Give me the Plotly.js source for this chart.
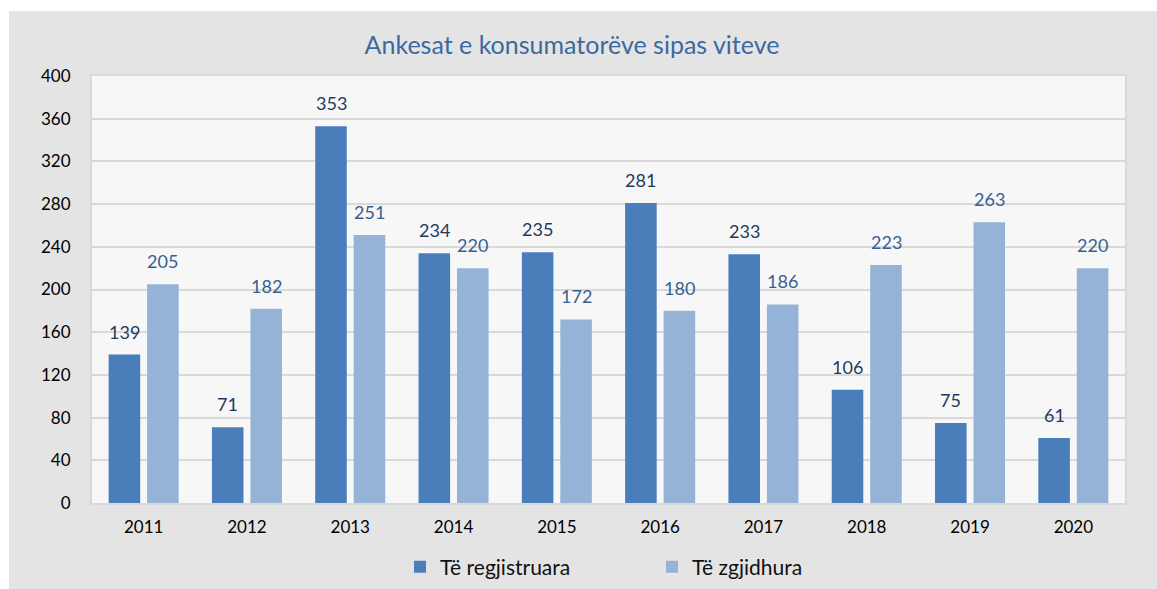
<!DOCTYPE html>
<html>
<head>
<meta charset="utf-8">
<script src="https://cdn.plot.ly/plotly-3.0.1.min.js"></script>
<style>
  html, body { margin: 0; padding: 0; background: #ffffff; }
  #chart { position: absolute; left: 9px; top: 11px; width: 1148px; height: 578px; }
</style>
</head>
<body>
<div id="chart"></div>
<script>
const years = ['2011','2012','2013','2014','2015','2016','2017','2018','2019','2020'];
const registered = [139, 71, 353, 234, 235, 281, 233, 106, 75, 61];
const resolved = [205, 182, 251, 220, 172, 180, 186, 223, 263, 220];
const seriesNames = ['Të regjistruara', 'Të zgjidhura'];
const yTicks = [0, 40, 80, 120, 160, 200, 240, 280, 320, 360, 400];

const FONT = 'Lato, "Open Sans", "Noto Sans", sans-serif';
const BAR_SHIFT = 19.25;

const traces = [
  {
    type: 'bar', name: seriesNames[0], x: years, y: registered,
    marker: { color: '#4a7ebb' }
  },
  {
    type: 'bar', name: seriesNames[1], x: years, y: resolved,
    marker: { color: '#95b3d7' }
  }
];

// annotation x uses the category index on the category axis
const labelAnn = (vals, shift, color) => vals.map((v, i) => ({
  x: i, y: v, xref: 'x', yref: 'y',
  text: String(v), showarrow: false,
  xshift: shift, yshift: 23, yanchor: 'middle', xanchor: 'center',
  font: { family: FONT, size: 18, color: color }
}));

const layout = {
  width: 1148, height: 578,
  paper_bgcolor: '#e4e4e4',
  plot_bgcolor: '#f7f7f7',
  margin: { l: 83, r: 32, t: 65, b: 86 },
  font: { family: FONT, size: 16, color: '#000000' },
  title: {
    text: 'Ankesat e konsumatorëve sipas viteve',
    font: { family: FONT, size: 25, color: '#3b6aa0' },
    x: (572 - 9) / 1148, xanchor: 'center', xref: 'container',
    y: 1 - 34 / 578, yanchor: 'middle', yref: 'container'
  },
  barmode: 'group',
  bargap: 0.255,
  bargroupgap: 0.18,
  xaxis: {
    type: 'category',
    categoryarray: years, categoryorder: 'array',
    showgrid: false,
    showline: true, linecolor: '#d9d9d9', linewidth: 2, mirror: true,
    ticks: 'outside', ticklen: 8, tickcolor: 'rgba(0,0,0,0)',
    tickfont: { family: FONT, size: 17, color: '#000000' }
  },
  yaxis: {
    range: [0, 400],
    tickvals: yTicks,
    ticktext: yTicks.map(String),
    showgrid: true, gridcolor: '#d9d9d9', gridwidth: 2,
    zeroline: false,
    showline: true, linecolor: '#d9d9d9', linewidth: 2, mirror: true,
    ticks: 'outside', ticklen: 16, tickcolor: 'rgba(0,0,0,0)',
    tickfont: { family: FONT, size: 17, color: '#000000' }
  },
  showlegend: true,
  legend: {
    orientation: 'h',
    xref: 'container', yref: 'container',
    x: (400 - 9) / 1148, xanchor: 'left',
    y: 1 - 556 / 578, yanchor: 'middle',
    font: { family: FONT, size: 21, color: '#111111' },
    itemwidth: 30,
    entrywidth: 207,
    traceorder: 'normal',
    bgcolor: 'rgba(0,0,0,0)'
  },
  annotations: [
    ...labelAnn(registered, -BAR_SHIFT, '#1f3a5f'),
    ...labelAnn(resolved, BAR_SHIFT, '#376092')
  ]
};

Plotly.newPlot('chart', traces, layout, { displayModeBar: false, staticPlot: true });
</script>
</body>
</html>
